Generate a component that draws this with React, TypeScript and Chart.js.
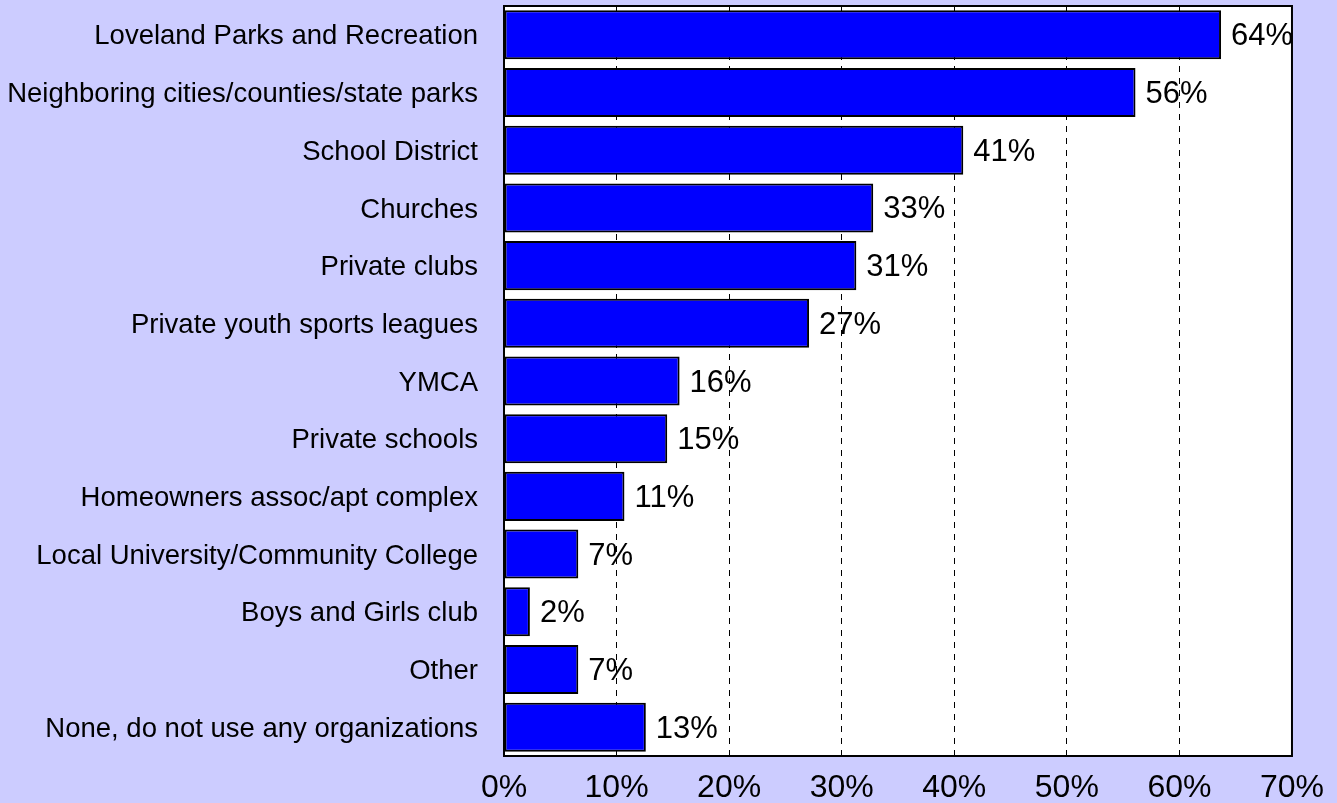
import React, { useEffect, useRef } from "react";
import { Chart, registerables } from "chart.js";

Chart.register(...registerables);

const categories = [
  "Loveland Parks and Recreation",
  "Neighboring cities/counties/state parks",
  "School District",
  "Churches",
  "Private clubs",
  "Private youth sports leagues",
  "YMCA",
  "Private schools",
  "Homeowners assoc/apt complex",
  "Local University/Community College",
  "Boys and Girls club",
  "Other",
  "None, do not use any organizations",
];

const values = [63.7, 56.1, 40.8, 32.8, 31.3, 27.1, 15.6, 14.5, 10.7, 6.6, 2.3, 6.6, 12.6];

const xMin = 0;
const xMax = 70;
const xStep = 10;

const FONT = "'Liberation Sans', Arial, sans-serif";

const plotPlugin = {
  id: "plotDecor",
  beforeDraw(chart: any) {
    const { ctx, chartArea } = chart;
    ctx.save();
    ctx.fillStyle = "#CCCCFF";
    ctx.fillRect(0, 0, chart.width, chart.height);
    ctx.fillStyle = "#FFFFFF";
    ctx.fillRect(chartArea.left, chartArea.top, chartArea.right - chartArea.left, chartArea.bottom - chartArea.top);
    ctx.restore();
  },
  afterDatasetsDraw(chart: any) {
    const { ctx, chartArea } = chart;
    const meta = chart.getDatasetMeta(0);
    ctx.save();
    ctx.fillStyle = "#000000";
    ctx.font = `31px ${FONT}`;
    ctx.textAlign = "left";
    ctx.textBaseline = "middle";
    meta.data.forEach((bar: any, i: number) => {
      ctx.fillText(Math.round(values[i]) + "%", bar.x + 10, bar.y + 2);
    });
    ctx.strokeStyle = "#000000";
    ctx.lineWidth = 2;
    ctx.strokeRect(chartArea.left, chartArea.top, chartArea.right - chartArea.left, chartArea.bottom - chartArea.top);
    ctx.restore();
  },
};

export default function App() {
  const ref = useRef<HTMLCanvasElement>(null);

  useEffect(() => {
    document.body.style.margin = "0";
    const chart = new Chart(ref.current!, {
      type: "bar",
      data: {
        labels: categories,
        datasets: [
          {
            data: values,
            backgroundColor: "#0000FF",
            borderColor: "#000000",
            borderWidth: 2,
            borderSkipped: false,
            barPercentage: 0.85,
            categoryPercentage: 1,
          },
        ],
      },
      options: {
        indexAxis: "y",
        animation: false,
        responsive: false,
        maintainAspectRatio: false,
        layout: { padding: { top: 6, right: 42, left: 0, bottom: 0 } },
        plugins: {
          legend: { display: false },
          tooltip: { enabled: false },
        },
        scales: {
          x: {
            min: xMin,
            max: xMax,
            afterFit(scale: any) {
              scale.height = 47;
              scale.paddingLeft = 0;
            },
            ticks: {
              stepSize: xStep,
              color: "#000000",
              font: { family: FONT, size: 32 },
              padding: 13,
              maxRotation: 0,
              callback: (v: any) => v + "%",
            },
            grid: {
              drawTicks: false,
              lineWidth: 1,
              color: (c: any) =>
                c.tick && (c.tick.value === xMin || c.tick.value === xMax) ? "rgba(0,0,0,0)" : "#000000",
            },
            border: { display: false, dash: [6, 6] },
          },
          y: {
            afterFit(scale: any) {
              scale.width = 504;
              scale.paddingTop = 0;
              scale.paddingBottom = 0;
            },
            ticks: {
              color: "#000000",
              font: { family: FONT, size: 27.5 },
              padding: 26,
              labelOffset: 2,
              autoSkip: false,
            },
            grid: { display: false, drawTicks: false },
            border: { display: false },
          },
        },
      },
      plugins: [plotPlugin],
    });
    return () => chart.destroy();
  }, []);

  return (
    <div style={{ position: "absolute", left: 0, top: 0, width: 1337, height: 803 }}>
      <canvas ref={ref} width={1337} height={803} style={{ display: "block" }} />
    </div>
  );
}
